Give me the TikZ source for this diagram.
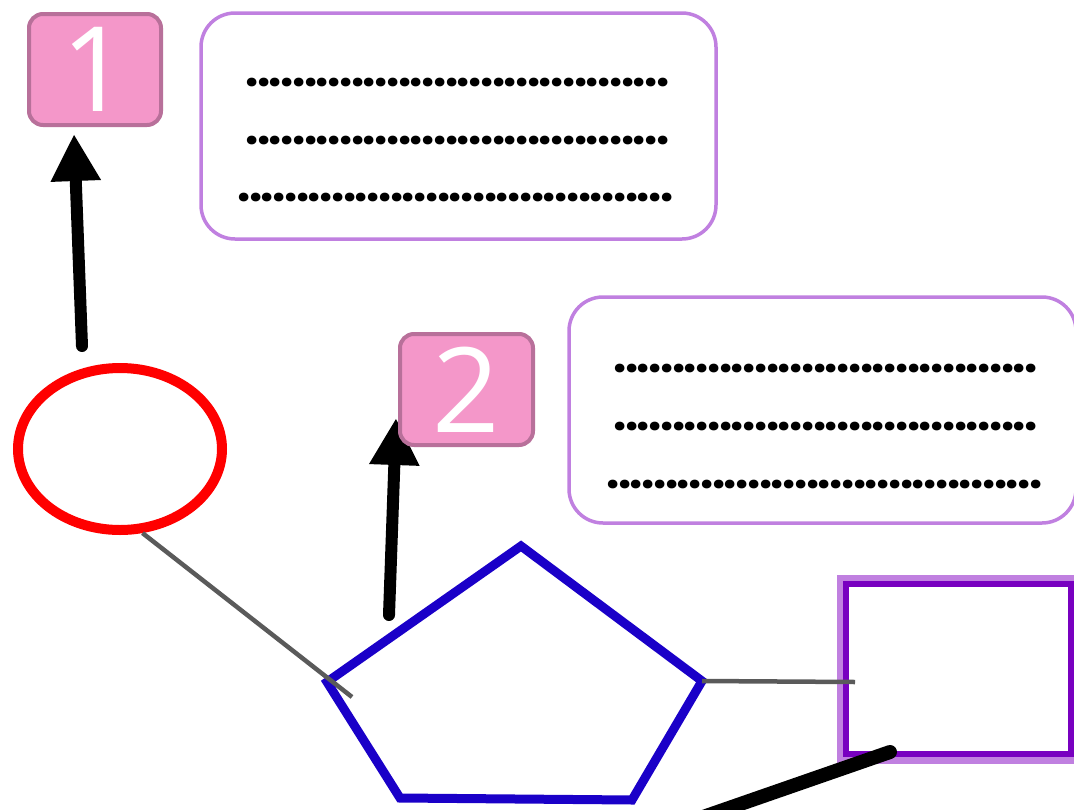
\documentclass[tikz,border=0pt]{standalone}
\usepackage{fontspec}
\setmainfont{Open Sans}
\newfontfamily\dotfont{Poppins}
\usetikzlibrary{shapes.geometric,arrows.meta}
\definecolor{pinkfill}{HTML}{F497C9}
\definecolor{pinkline}{HTML}{B8709A}
\definecolor{boxline}{HTML}{C080E0}
\definecolor{pentblue}{HTML}{1A00C8}
\definecolor{darkpurple}{HTML}{7800C0}
\definecolor{linkgray}{HTML}{5A5A5A}
\newcount\dotcnt
\newcommand\fillerdots[1]{\dotcnt=0 \loop\makebox[11.75pt]{.}\advance\dotcnt by 1 \ifnum\dotcnt<#1\repeat}
\tikzset{
  numbox/.style={draw=pinkline, fill=pinkfill, line width=4pt, rounded corners=14pt,
    minimum width=132pt, minimum height=111pt, inner sep=0pt, text=white,
    font=\fontsize{118pt}{118pt}\selectfont},
  infobox/.style={draw=boxline, line width=3.5pt, rounded corners=34pt, fill=white,
    minimum height=226pt, inner sep=0pt},
  dotrow/.style={inner sep=0pt, font=\dotfont\bfseries\fontsize{47pt}{47pt}\selectfont},
  bigarrow/.style={line width=12pt, line cap=round, -{Triangle[width=47pt,length=47pt]}},
  link/.style={draw=linkgray, line width=4.5pt},
}
\begin{document}
\begin{tikzpicture}[x=1pt,y=-1pt]
\useasboundingbox (0,0) rectangle (1074,809);
% connector coordinates
\coordinate (a1s) at (82,346);
\coordinate (a1t) at (74,134);
\coordinate (a2s) at (389,615);
\coordinate (a2t) at (396,418);
% arrows (drawn below the label boxes)
\draw[bigarrow] (a1s) -- (a1t);
\draw[bigarrow] (a2s) -- (a2t);
% label boxes
\node[numbox] (n1) at (95,69.5) {1};
\node[numbox, minimum width=133pt] (n2) at (466.5,389.5) {2};
% info boxes
\node[infobox, minimum width=515pt] (boxA) at (458.5,126) {};
\node[infobox, minimum width=507pt] (boxB) at (822.5,410) {};
\node[dotrow] (a1) at (457.5,83) {\fillerdots{36}};
\node[dotrow] (a2) at (457.5,141) {\fillerdots{36}};
\node[dotrow] (a3) at (455.5,198) {\fillerdots{37}};
\node[dotrow] (b1) at (825.5,368) {\fillerdots{36}};
\node[dotrow] (b2) at (825.5,426) {\fillerdots{36}};
\node[dotrow] (b3) at (824.5,484) {\fillerdots{37}};
% red ellipse
\node[ellipse, draw=red, line width=10pt, minimum width=204pt, minimum height=162pt, inner sep=0pt] (ell) at (120,449) {};
% pentagon
\coordinate (pT) at (521,546);
\coordinate (pR) at (702,681);
\coordinate (pBR) at (632,800);
\coordinate (pBL) at (400,798);
\coordinate (pL) at (327,682);
\draw[pentblue, line width=9pt, line join=miter] (pT) -- (pR) -- (pBR) -- (pBL) -- (pL) -- cycle;
% right purple box
\node[draw=boxline, line width=7pt, minimum width=237pt, minimum height=182pt, inner sep=0pt] (sqo) at (958.5,669) {};
\node[draw=darkpurple, line width=5.5pt, minimum width=225pt, minimum height=170pt, inner sep=0pt] (sq) at (958.5,669) {};
% gray links
\coordinate (g1) at (352,697);
\coordinate (g2) at (855,682);
\draw[link] (ell.285) -- (g1);
\draw[link] (pR) -- (g2);
% black bar at bottom right
\coordinate (k1) at (890,752);
\coordinate (k2) at (680,825);
\draw[line width=14pt, line cap=round] (k1) -- (k2);
\end{tikzpicture}
\end{document}
